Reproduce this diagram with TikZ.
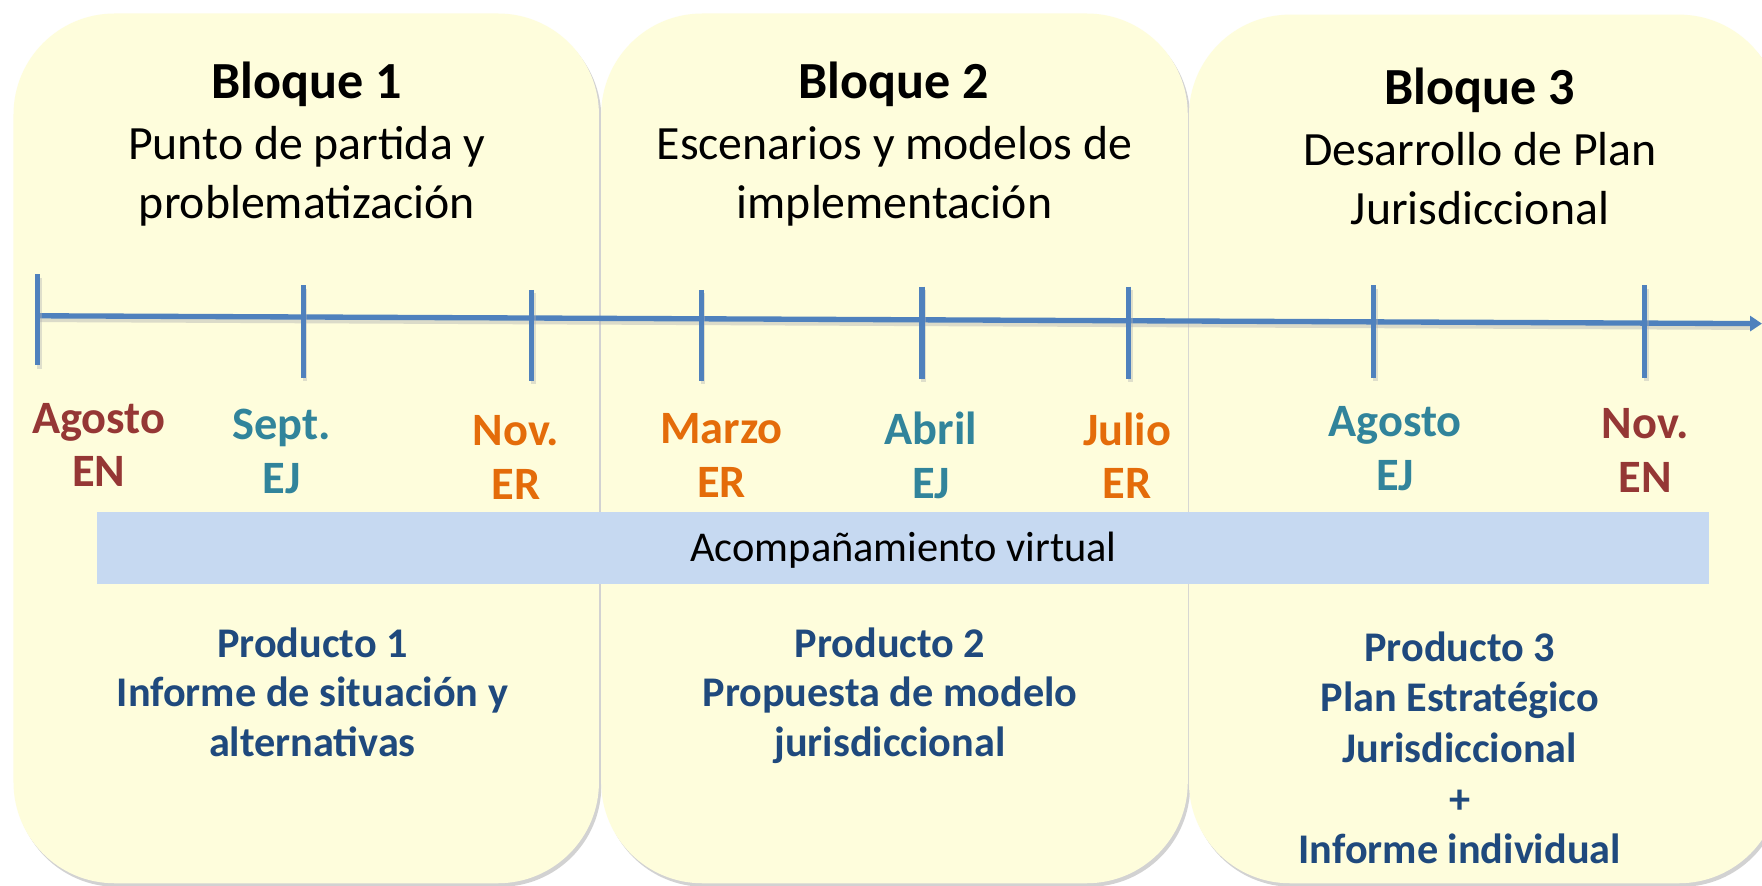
\documentclass[tikz,border=0pt]{standalone}
\usepackage{fontspec}
\setmainfont{Carlito}
\usetikzlibrary{arrows.meta,shadows}
\definecolor{boxfill}{HTML}{FEFDDC}
\definecolor{barfill}{HTML}{C6D9F1}
\definecolor{lineblue}{HTML}{4F81BD}
\definecolor{mred}{HTML}{953735}
\definecolor{mteal}{HTML}{31849B}
\definecolor{morange}{HTML}{E46C0A}
\definecolor{navy}{HTML}{1F497D}
\tikzset{
  blockbox/.style={fill=boxfill, rounded corners=1.8cm,
    drop shadow={opacity=0.35, shadow xshift=1.2pt, shadow yshift=-1.8pt}},
  titletext/.style={font=\bfseries\fontsize{26.4}{31}\selectfont, text=black, inner sep=0pt},
  subtext/.style={font=\fontsize{24.2}{30}\selectfont, text=black, align=center, inner sep=0pt},
  monthtext/.style={font=\bfseries\fontsize{23.5}{27.2}\selectfont, align=center, inner sep=0pt},
  prodtext/.style={font=\bfseries\fontsize{21.4}{25.2}\selectfont, text=navy, align=center, inner sep=0pt},
  tline/.style={draw=lineblue, line width=2.7pt},
  tick/.style={draw=lineblue, line width=2.6pt},
}
\begin{document}
\begin{tikzpicture}[x=0.02cm,y=-0.02cm]
\useasboundingbox (0,0) rectangle (1568,788);
\fill[white] (0,0) rectangle (1568,788);
% blocks
\path[blockbox] (12,12) rectangle (533,786);
\path[blockbox] (535,12) rectangle (1057,786);
\path[blockbox] (1058,13) rectangle (1584,786);
% titles
\node[titletext] (t1) at (273,75) {Bloque 1};
\node[subtext] (s1) at (273,157) {Punto de partida y\\problematización};
\node[titletext] (t2) at (795,75) {Bloque 2};
\node[subtext] (s2) at (796,157) {Escenarios y modelos de\\implementación};
\node[titletext] (t3) at (1317,80) {Bloque 3};
\node[subtext] (s3) at (1317,159) {Desarrollo de Plan\\Jurisdiccional};
% timeline
\coordinate (ls) at (33.5,281);
\coordinate (le) at (1568,288);
\draw[draw=black!30, line width=2.4pt, opacity=0.45] ([shift={(1,3.5)}]ls) -- ([shift={(-8,3.5)}]le);
\draw[tline, -{Triangle[length=6pt,width=7.5pt]}] (ls) -- (le);
\foreach \x/\a/\b in {33.5/244/325, 270/254/336, 473/258/339, 624/258/339,
  820.5/255/337, 1004.5/255/337, 1222.5/254/336, 1463.5/254/336}{
  \draw[draw=black!30, line width=2.4pt, opacity=0.4] (\x+1.5,\a+3) -- (\x+1.5,\b+3);
  \draw[tick] (\x,\a) -- (\x,\b);
}
% months
\node[monthtext, text=mred] (m1) at (88,396) {Agosto\\EN};
\node[monthtext, text=mteal] (m2) at (250.5,401.5) {Sept.\\EJ};
\node[monthtext, text=morange] (m3) at (459,407) {Nov.\\ER};
\node[monthtext, text=morange] (m4) at (642,405.5) {Marzo\\ER};
\node[monthtext, text=mteal] (m5) at (828.5,405.5) {Abril\\EJ};
\node[monthtext, text=morange] (m6) at (1003,405.5) {Julio\\ER};
\node[monthtext, text=mteal] (m7) at (1241.5,399) {Agosto\\EJ};
\node[monthtext, text=mred] (m8) at (1464,401) {Nov.\\EN};
% bar
\path[fill=barfill] (86,456) rectangle (1521,520);
\node[font=\fontsize{21.5}{25}\selectfont, inner sep=0pt] (bar) at (804,490) {Acompañamiento virtual};
% products
\node[prodtext] (p1) at (278,616) {Producto 1\\Informe de situación y\\alternativas};
\node[prodtext] (p2) at (792,619) {Producto 2\\Propuesta de modelo\\jurisdiccional};
\node[prodtext, font=\bfseries\fontsize{21.4}{25.6}\selectfont] (p3) at (1299,665.5) {Producto 3\\Plan Estratégico\\Jurisdiccional\\+\\Informe individual};
\end{tikzpicture}
\end{document}
